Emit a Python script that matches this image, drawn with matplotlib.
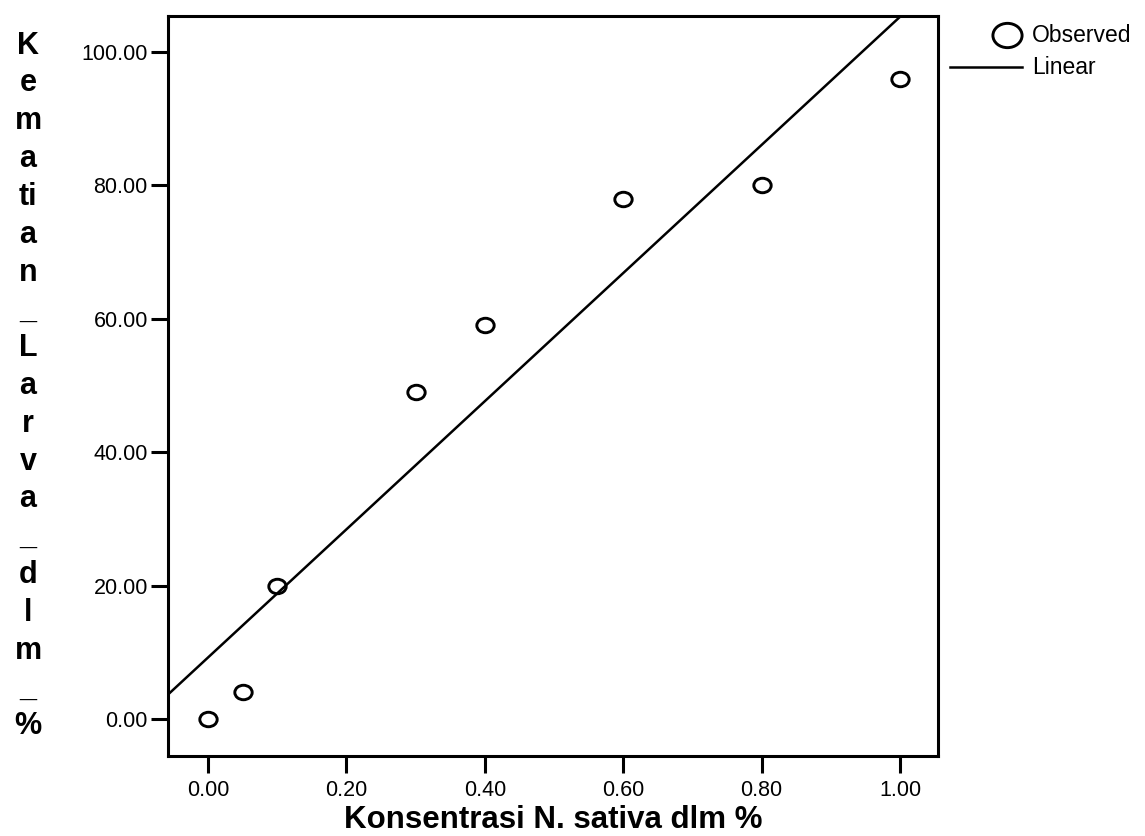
import numpy as np
import matplotlib
matplotlib.use('Agg')
import matplotlib.pyplot as plt
from matplotlib.lines import Line2D
from matplotlib.path import Path
from matplotlib.transforms import Affine2D

plt.rcParams['font.family'] = ['Liberation Sans', 'DejaVu Sans']

# data
konsentrasi = [0.00, 0.05, 0.10, 0.30, 0.40, 0.60, 0.80, 1.00]
kematian = [0, 4, 20, 49, 59, 78, 80, 96]
x_ticks = [0.0, 0.2, 0.4, 0.6, 0.8, 1.0]
y_ticks = [0, 20, 40, 60, 80, 100]
ylabel_tokens = ['K', 'e', 'm', 'a', 'ti', 'a', 'n', '_', 'L', 'a', 'r', 'v', 'a',
                 '_', 'd', 'l', 'm', '_', '%']

W, H = 1145, 836
fig = plt.figure(figsize=(W / 100, H / 100), dpi=100)
ax = fig.add_axes([168 / W, 1 - 756 / H, (938 - 168) / W, (756 - 16) / H])

# ellipse marker like SPSS
ell = Affine2D().scale(1.2, 1.0).transform_path(Path.unit_circle())

ax.plot(konsentrasi, kematian, linestyle='none', marker=ell, markersize=12.5,
        markerfacecolor='none', markeredgecolor='black', markeredgewidth=2.1, zorder=3)

# linear fit
slope, intercept = np.polyfit(konsentrasi, kematian, 1)
xlim = (-0.058, 1.055)
xs = np.array(xlim)
ax.plot(xs, slope * xs + intercept, color='black', linewidth=1.8, zorder=2)

ax.set_xlim(*xlim)
ax.set_ylim(-5.55, 105.4)
ax.set_xticks(x_ticks)
ax.set_yticks(y_ticks)
ax.set_xticklabels(['%.2f' % v for v in x_ticks])
ax.set_yticklabels(['%.2f' % v for v in y_ticks])
ax.tick_params(direction='out', length=12, width=2.2, labelsize=15.5)
ax.tick_params(axis='x', pad=5)
ax.tick_params(axis='y', pad=2.5)
for sp in ax.spines.values():
    sp.set_linewidth(2.2)

ax.set_xlabel('Konsentrasi N. sativa dlm %', fontsize=22.5, fontweight='bold', labelpad=3)
ax.set_ylabel('\n'.join(ylabel_tokens), rotation=0, fontsize=22, fontweight='bold',
              linespacing=1.34, ha='center', va='center')
ax.yaxis.set_label_coords((28 - 168) / 770, (756 - 386) / 740)

# legend (outside, right top)
def fx(px):
    return px / W

def fy(py):
    return 1 - py / H

fig.add_artist(Line2D([fx(1007)], [fy(35)], marker=ell, markersize=21,
                      markerfacecolor='none', markeredgecolor='black',
                      markeredgewidth=2.1, linestyle='none', transform=fig.transFigure))
fig.text(fx(1032), fy(35), 'Observed', fontsize=16.5, va='center', ha='left')
fig.add_artist(Line2D([fx(950), fx(1022)], [fy(67), fy(67)], color='black',
                      linewidth=1.8, transform=fig.transFigure))
fig.text(fx(1032), fy(67), 'Linear', fontsize=16.5, va='center', ha='left')

fig.savefig('out.png', dpi=100)
